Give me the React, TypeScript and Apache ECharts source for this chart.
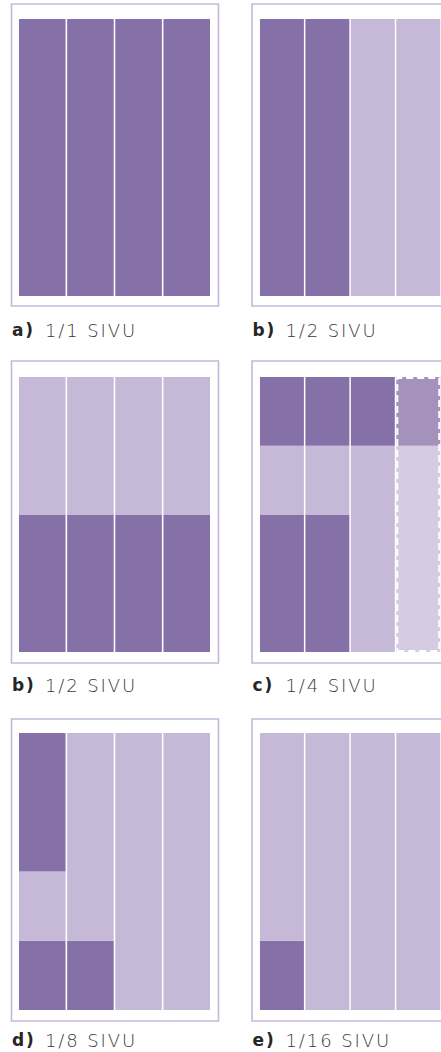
import React, { useEffect, useRef } from 'react';
import * as echarts from 'echarts';

// ---- data ----
const columns = ['1', '2', '3', '4'];
const panelLetters = ['a)', 'b)', 'b)', 'c)', 'd)', 'e)'];
const panelTitles = ['1/1 SIVU', '1/2 SIVU', '1/2 SIVU', '1/4 SIVU', '1/8 SIVU', '1/16 SIVU'];

// each column: segments stacked bottom-up, in quarter-page units [value, shade]
type Seg = [number, string];
const panelA: Seg[][] = [[[4, 'dark']], [[4, 'dark']], [[4, 'dark']], [[4, 'dark']]];
const panelB1: Seg[][] = [[[4, 'dark']], [[4, 'dark']], [[4, 'light']], [[4, 'light']]];
const panelB2: Seg[][] = [
  [[2, 'dark'], [2, 'light']],
  [[2, 'dark'], [2, 'light']],
  [[2, 'dark'], [2, 'light']],
  [[2, 'dark'], [2, 'light']],
];
const panelC: Seg[][] = [
  [[2, 'dark'], [1, 'light'], [1, 'dark']],
  [[2, 'dark'], [1, 'light'], [1, 'dark']],
  [[3, 'light'], [1, 'dark']],
  [[3, 'pale'], [1, 'mid']],
];
const panelD: Seg[][] = [
  [[1, 'dark'], [1, 'light'], [2, 'dark']],
  [[1, 'dark'], [3, 'light']],
  [[4, 'light']],
  [[4, 'light']],
];
const panelE: Seg[][] = [
  [[1, 'dark'], [3, 'light']],
  [[4, 'light']],
  [[4, 'light']],
  [[4, 'light']],
];
const panels = [panelA, panelB1, panelB2, panelC, panelD, panelE];
// dashed outline column in panel c
const dashedColumnC = ['-', '-', '-', 4];

// ---- styles / layout ----
const shadeColors: Record<string, string> = {
  dark: '#8571a8',
  light: '#c5b9d7',
  mid: '#a492bd',
  pale: '#d5cce3',
};
const frameColor = '#c4b9d8';
const colInnerX = [19, 260];
const colFrameX = [11.5, 252];
const rowInnerTop = [19, 377, 733];
const rowInnerH = [277, 275, 277];
const rowFrameTop = [4, 361, 719];
const rowLabelY = [330, 685, 1040];

export default function App() {
  const ref = useRef<HTMLDivElement>(null);
  useEffect(() => {
    if (!ref.current) return;
    const chart = echarts.init(ref.current, null, { renderer: 'svg' });
    const gap = '3.3%';
    const grids: any[] = [];
    const xAxes: any[] = [];
    const yAxes: any[] = [];
    const series: any[] = [];
    const graphics: any[] = [];

    panels.forEach((panel, i) => {
      const c = i % 2;
      const r = Math.floor(i / 2);
      grids.push({
        left: colInnerX[c] - 0.8,
        top: rowInnerTop[r],
        width: 192.6,
        height: rowInnerH[r],
        containLabel: false,
      });
      xAxes.push({ type: 'category', data: columns, gridIndex: i, show: false });
      yAxes.push({ type: 'value', min: 0, max: 4, gridIndex: i, show: false });
      const layers = Math.max(...panel.map((col) => col.length));
      for (let l = 0; l < layers; l++) {
        series.push({
          type: 'bar',
          xAxisIndex: i,
          yAxisIndex: i,
          stack: 'p' + i,
          barCategoryGap: gap,
          barGap: '-100%',
          silent: true,
          data: panel.map((col) =>
            col[l] ? { value: col[l][0], itemStyle: { color: shadeColors[col[l][1]] } } : '-'
          ),
        });
      }
      if (i === 3) {
        series.push({
          type: 'bar',
          xAxisIndex: i,
          yAxisIndex: i,
          barCategoryGap: gap,
          barGap: '-100%',
          silent: true,
          z: 5,
          data: dashedColumnC,
          itemStyle: {
            color: 'rgba(0,0,0,0)',
            borderColor: '#ffffff',
            borderWidth: 2,
            borderType: [7, 4],
          },
        });
      }
      graphics.push({
        type: 'rect',
        shape: { x: colFrameX[c], y: rowFrameTop[r], width: 207, height: 302 },
        style: { fill: 'none', stroke: frameColor, lineWidth: 1.6 },
        silent: true,
      });
      graphics.push({
        type: 'text',
        x: colFrameX[c] + 0.5,
        y: rowLabelY[r],
        style: {
          text: panelLetters[i],
          fontFamily: 'DejaVu Sans',
          fontWeight: 'bold',
          fontSize: 17,
          fill: '#262626',
          verticalAlign: 'middle',
          align: 'left',
        },
      });
      graphics.push({
        type: 'text',
        x: colFrameX[c] + 33.5,
        y: rowLabelY[r],
        style: {
          text: panelTitles[i],
          fontFamily: 'DejaVu Sans',
          fontWeight: 300,
          fontSize: 18,
          fill: '#3a3a3a',
          verticalAlign: 'middle',
          align: 'left',
        },
      });
    });

    chart.setOption({
      animation: false,
      backgroundColor: '#ffffff',
      tooltip: { show: false },
      grid: grids,
      xAxis: xAxes,
      yAxis: yAxes,
      series,
      graphic: graphics,
    });
    return () => chart.dispose();
  }, []);

  return (
    <>
      <style>{`.page-chart svg text { letter-spacing: 1.9px; }`}</style>
      <div
        ref={ref}
        className="page-chart"
        style={{ position: 'absolute', left: 0, top: 0, width: 441, height: 1052, overflow: 'hidden' }}
      />
    </>
  );
}
